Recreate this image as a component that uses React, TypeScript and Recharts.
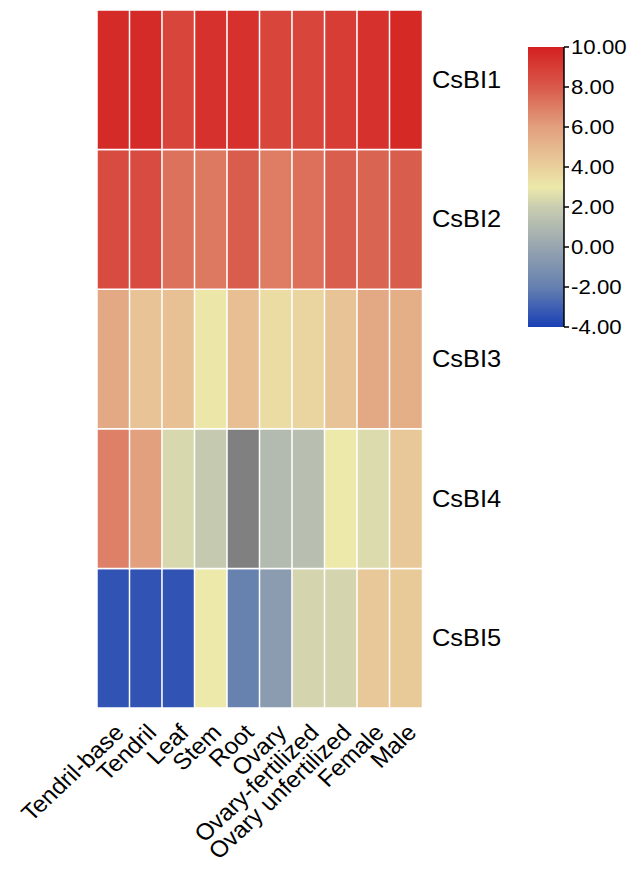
import React from 'react';
import { BarChart, Bar, XAxis, YAxis, Cell } from 'recharts';

const tissues = [
  'Tendril-base',
  'Tendril',
  'Leaf',
  'Stem',
  'Root',
  'Ovary',
  'Ovary-fertilized',
  'Ovary unfertilized',
  'Female',
  'Male',
];
const genes = ['CsBI1', 'CsBI2', 'CsBI3', 'CsBI4', 'CsBI5'];

// expression values, one list per gene (null = missing, drawn grey)
const csbi1 = [9.6, 9.6, 8.7, 9.4, 9.4, 8.7, 8.7, 9.0, 9.4, 9.7];
const csbi2 = [8.5, 8.5, 7.3, 7.1, 7.9, 7.0, 7.35, 7.85, 7.7, 7.9];
const csbi3 = [5.6, 4.5, 4.6, 3.1, 4.7, 3.5, 3.8, 4.5, 5.6, 5.4];
const csbi4 = [6.9, 6.0, 2.4, 1.8, null, 1.1, 1.3, 3.0, 2.5, 4.3];
const csbi5 = [-3.4, -3.4, -3.4, 3.0, -1.9, -0.5, 2.3, 2.3, 4.3, 4.2];

const scaleTicks = [-4, -2, 0, 2, 4, 6, 8, 10];
const stopValues = [-4, -2, 0, 2, 3, 4, 6, 8, 10];
const stopColors = ['#1a3fb5', '#6580b0', '#98a5b0', '#c9cdb0', '#ece9aa', '#e9cf9c', '#e2a07e', '#d9594a', '#d42020'];

const geneValues: Array<Array<number | null>> = [csbi1, csbi2, csbi3, csbi4, csbi5];

const FONT = '"Liberation Sans", Arial, sans-serif';
const STRETCH = 1.06;

function hexToRgb(hex: string) {
  const n = parseInt(hex.slice(1), 16);
  return [(n >> 16) & 255, (n >> 8) & 255, n & 255];
}

function colorFor(v: number | null): string {
  if (v === null) return '#808080';
  const lo = stopValues[0];
  const hi = stopValues[stopValues.length - 1];
  const t = Math.max(lo, Math.min(hi, v));
  let i = 0;
  while (i < stopValues.length - 2 && t > stopValues[i + 1]) i++;
  const f = (t - stopValues[i]) / (stopValues[i + 1] - stopValues[i]);
  const a = hexToRgb(stopColors[i]);
  const b = hexToRgb(stopColors[i + 1]);
  const c = a.map((x, k) => Math.round(x + (b[k] - x) * f));
  return `rgb(${c[0]},${c[1]},${c[2]})`;
}

// each gene occupies one unit band, stacked bottom (CsBI5) to top (CsBI1)
const heatData = tissues.map((tissue) => {
  const row: Record<string, string | number> = { tissue };
  genes.forEach((g) => {
    row[g] = 1;
  });
  return row;
});

const stackOrder = [...genes].reverse();

function TissueTick({ x, y, payload }: any) {
  return (
    <g transform={`translate(${x + 12},${y + 18}) scale(${STRETCH},1) rotate(-45)`}>
      <text x={0} y={0} textAnchor="end" fontFamily={FONT} fontSize={23} fill="#000">
        {payload.value}
      </text>
    </g>
  );
}

function GeneTick({ x, y, payload }: any) {
  const name = genes[genes.length - 1 - Math.floor(payload.value)];
  return (
    <g transform={`translate(${x + 2},${y + 8}) scale(${STRETCH},1)`}>
      <text x={0} y={0} textAnchor="start" fontFamily={FONT} fontSize={24} fill="#000">
        {name}
      </text>
    </g>
  );
}

function ScaleTick({ x, y, payload }: any) {
  return (
    <g transform={`translate(${x},${y + 7}) scale(${STRETCH},1)`}>
      <text x={0} y={0} textAnchor="start" fontFamily={FONT} fontSize={21} fill="#000">
        {Number(payload.value).toFixed(2)}
      </text>
    </g>
  );
}

const scaleData = [{ name: 'scale', range: [scaleTicks[0], scaleTicks[scaleTicks.length - 1]] }];

export default function App() {
  return (
    <div style={{ position: 'absolute', left: 0, top: 0, width: 632, height: 869, background: '#fff', overflow: 'hidden' }}>
      <div style={{ position: 'absolute', left: 0, top: 0 }}>
        <BarChart
          width={632}
          height={869}
          data={heatData}
          margin={{ top: 10, left: 97, right: 100, bottom: 11 }}
          barCategoryGap={0}
          barGap={0}
        >
          <XAxis
            dataKey="tissue"
            interval={0}
            axisLine={false}
            tickLine={false}
            height={150}
            tick={<TissueTick />}
          />
          <YAxis
            type="number"
            orientation="right"
            domain={[0, 5]}
            ticks={[0.5, 1.5, 2.5, 3.5, 4.5]}
            axisLine={false}
            tickLine={false}
            width={110}
            tick={<GeneTick />}
          />
          {stackOrder.map((g) => {
            const gi = genes.indexOf(g);
            return (
              <Bar key={g} dataKey={g} stackId="h" isAnimationActive={false} stroke="#fff" strokeWidth={1.5}>
                {tissues.map((t, ti) => (
                  <Cell key={t} fill={colorFor(geneValues[gi][ti])} />
                ))}
              </Bar>
            );
          })}
        </BarChart>
      </div>
      <div style={{ position: 'absolute', left: 518, top: 22 }}>
        <BarChart
          width={114}
          height={330}
          data={scaleData}
          margin={{ top: 25, left: 10, right: 0, bottom: 25 }}
          barCategoryGap={0}
        >
          <defs>
            <linearGradient id="scaleGrad" x1="0" y1="1" x2="0" y2="0">
              {stopValues.map((v, i) => (
                <stop
                  key={v}
                  offset={(v - stopValues[0]) / (stopValues[stopValues.length - 1] - stopValues[0])}
                  stopColor={stopColors[i]}
                />
              ))}
            </linearGradient>
          </defs>
          <XAxis dataKey="name" hide />
          <YAxis
            type="number"
            orientation="right"
            domain={[-4, 10]}
            ticks={scaleTicks}
            width={68}
            axisLine={{ stroke: '#000', strokeWidth: 1.5 }}
            tickLine={{ stroke: '#000', strokeWidth: 1.5 }}
            tickSize={5}
            tick={<ScaleTick />}
          />
          <Bar dataKey="range" fill="url(#scaleGrad)" isAnimationActive={false} />
        </BarChart>
      </div>
    </div>
  );
}
